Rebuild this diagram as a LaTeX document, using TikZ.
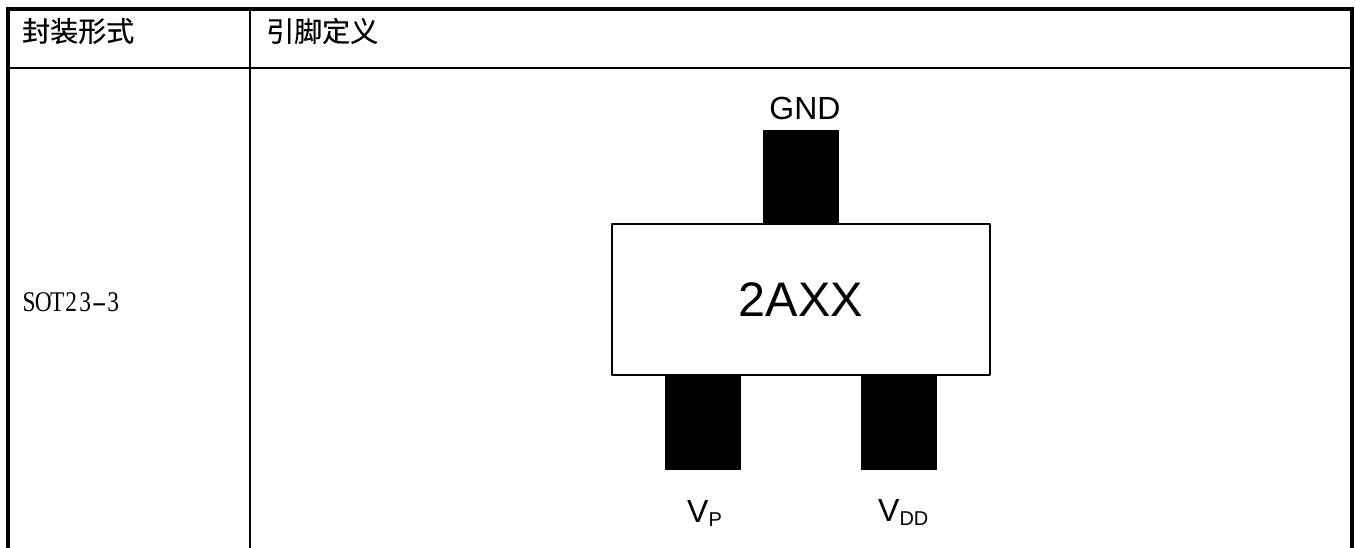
\documentclass[tikz,border=0pt]{standalone}
\usepackage{graphicx}
\usepackage{fontspec}
\setmainfont{Liberation Sans}
\newfontfamily\cjk{Noto Sans CJK SC}[FakeBold=0.35]
\newfontfamily\sotfont{Liberation Serif}[FakeStretch=0.82]
\newcommand{\mc}[1]{\makebox[14pt][c]{#1}}
\begin{document}
\begin{tikzpicture}[x=1pt,y=-1pt,
  thickrule/.style={line width=4pt,line cap=butt},
  thinrule/.style={line width=2.2pt,line cap=butt},
  pin/.style={fill=black,draw=none},
  chip/.style={draw=black,fill=white,line width=2pt,line join=round},
  lab/.style={inner sep=0pt,font=\fontsize{32pt}{32pt}\selectfont,text=black},
  head/.style={inner sep=0pt,anchor=west,font=\cjk\fontsize{28pt}{28pt}\selectfont,text=black}]
\useasboundingbox (0,0) rectangle (1355,548);
\fill[white] (0,0) rectangle (1355,548);
% table rules
\coordinate (tl) at (8,9); \coordinate (tr) at (1352,9);
\coordinate (bl) at (8,548); \coordinate (br) at (1352,548);
\coordinate (ml) at (8,68); \coordinate (mr) at (1352,68);
\coordinate (vt) at (250,9); \coordinate (vb) at (250,548);
\draw[thinrule] (ml) -- (mr);
\draw[thinrule] (vt) -- (vb);
\draw[thickrule] (bl) -- (tl) -- (tr) -- (br);
% pins
\fill[pin] (763,130) rectangle (839,225);
\fill[pin] (665,375) rectangle (741,470);
\fill[pin] (861,375) rectangle (937,470);
% chip
\node[chip,minimum width=378pt,minimum height=151pt,inner sep=0pt,
  font=\fontsize{48.5pt}{48.5pt}\selectfont] (body) at (801,299.7) {\raisebox{1pt}{2AXX}};
% labels
\node[lab] (gnd) at (805,108.7) {GND};
\node[lab,anchor=base west] (vp) at (687,522) {V\raisebox{-4pt}{\fontsize{20pt}{20pt}\selectfont P}};
\node[lab,anchor=base west] (vdd) at (878,521.7) {V\raisebox{-4pt}{\fontsize{20pt}{20pt}\selectfont DD}};
\node[head] (h1) at (22,31) {封装形式};
\node[head] (h2) at (266,31) {引脚定义};
\node[inner sep=0pt,anchor=base west,font=\sotfont\fontsize{28.5pt}{28.5pt}\selectfont] (pkg) at (22,311.5)
  {\mc{S}\mc{O}\mc{T}\mc{2}\mc{3}\mc{\scalebox{1.9}[1]{-}}\mc{3}};
\end{tikzpicture}
\end{document}
